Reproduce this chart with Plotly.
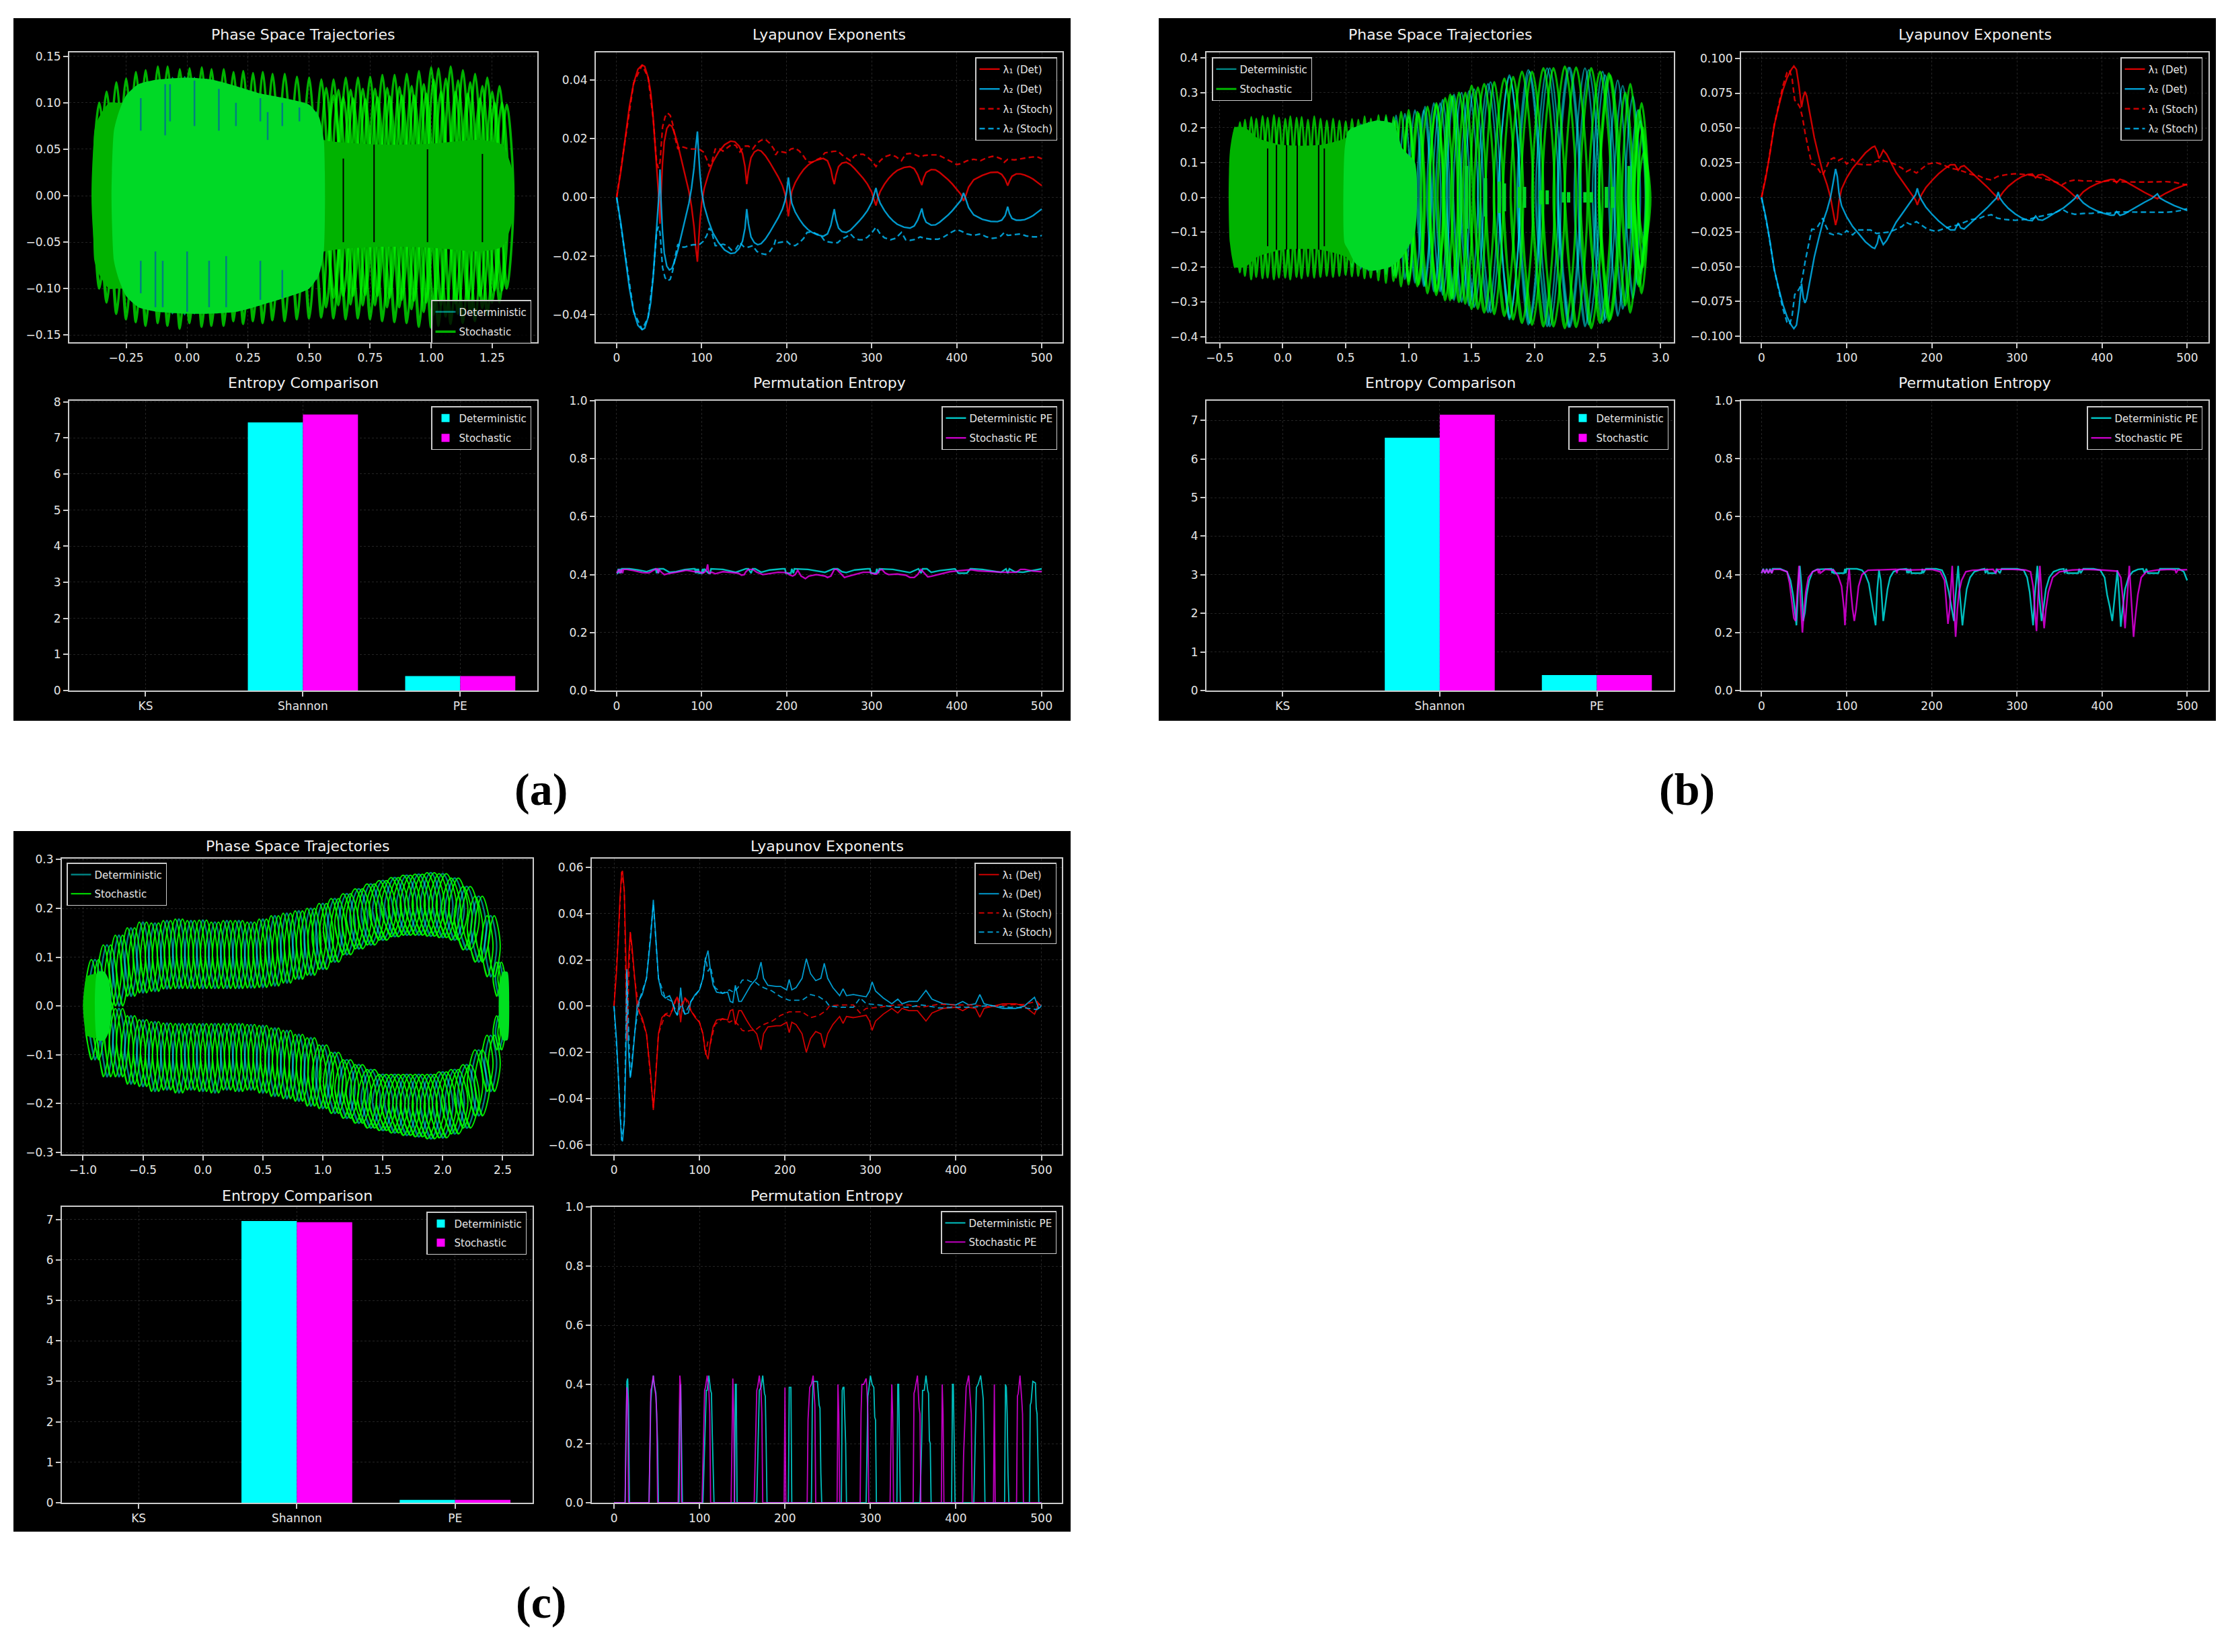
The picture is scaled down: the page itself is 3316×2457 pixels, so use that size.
import plotly.graph_objects as go

W, H = 3316, 2457
STEPS_TICK = [0, 100, 200, 300, 400, 500]

# ---------- entropy bars ----------
bar_cats = ["KS", "Shannon", "PE"]
a_bar_det = [0.0, 7.43, 0.40]
a_bar_sto = [0.0, 7.65, 0.40]
b_bar_det = [0.0, 6.55, 0.40]
b_bar_sto = [0.0, 7.15, 0.40]
c_bar_det = [0.0, 6.96, 0.07]
c_bar_sto = [0.0, 6.93, 0.07]

# ---------- Lyapunov (a) ----------
a_ld_x = [0,5,10,15,20,25,30,33,37,40,43,46,48,50,51,52,54,56,59,62,65,68,72,76,80,85,88,91,93,95,96,98,100,103,108,113,120,127,134,139,144,148,151,153,155,158,162,166,170,175,180,185,190,195,198,200,202,204,206,210,215,220,225,230,236,243,248,252,254,256,258,261,265,270,275,280,285,290,295,300,303,305,307,310,315,320,325,330,338,345,350,354,357,359,361,364,370,375,380,385,390,395,400,405,408,410,414,420,430,440,448,453,457,460,462,465,470,475,480,485,490,495,500]
a_l1d = [0,.009,.02,.031,.039,.0437,.0452,.0447,.041,.036,.027,.015,.006,-.002,-.009,0,.012,.019,.0235,.0248,.0243,.022,.018,.013,.008,.002,-.003,-.01,-.017,-.022,-.017,-.008,-.002,.003,.008,.012,.0155,.018,.0192,.019,.0175,.015,.0105,.0045,.009,.0135,.0155,.0162,.0158,.0142,.012,.0095,.007,.004,.0012,-.002,-.0065,-.002,.002,.005,.0075,.0095,.011,.012,.0128,.0133,.0125,.0095,.0065,.0045,.0075,.0105,.0117,.012,.0112,.0098,.0082,.0065,.0045,.0018,-.001,-.0028,-.0005,.002,.0045,.0065,.008,.0092,.0102,.0105,.0098,.0078,.0055,.0042,.0065,.0085,.0095,.0094,.0085,.0073,.006,.0045,.0028,.001,-.0012,0,.0035,.006,.0075,.0085,.0086,.0078,.0062,.004,.0055,.0072,.008,.008,.0076,.007,.0062,.0052,.004]
a_l2d = [0,-.009,-.02,-.031,-.039,-.0437,-.0452,-.0447,-.041,-.036,-.027,-.015,-.006,.002,.0095,0,-.012,-.019,-.0235,-.0248,-.0243,-.022,-.018,-.013,-.008,-.002,.003,.01,.017,.0225,.017,.008,.002,-.003,-.008,-.012,-.0155,-.018,-.0192,-.019,-.0175,-.015,-.0105,-.004,-.009,-.0135,-.0155,-.0162,-.0158,-.0142,-.012,-.0095,-.007,-.004,-.0012,.002,.0068,.002,-.002,-.005,-.0075,-.0095,-.011,-.012,-.0128,-.0133,-.0125,-.0095,-.0065,-.004,-.0075,-.0105,-.0117,-.012,-.0112,-.0098,-.0082,-.0065,-.0045,-.0018,.001,.0032,.0005,-.002,-.0045,-.0065,-.008,-.0092,-.0102,-.0105,-.0098,-.0078,-.0055,-.0038,-.0065,-.0085,-.0095,-.0094,-.0085,-.0073,-.006,-.0045,-.0028,-.001,.0015,0,-.0035,-.006,-.0075,-.0082,-.0083,-.0078,-.0062,-.0032,-.0055,-.0072,-.0078,-.0078,-.0076,-.007,-.0062,-.0052,-.004]
a_ls_x = [0,10,20,30,37,43,47,49,51,54,57,60,63,66,69,72,75,80,85,90,97,102,106,109,112,116,120,125,130,135,140,145,150,155,160,165,170,175,180,185,187,190,195,200,205,210,215,220,224,230,235,240,245,250,255,260,265,270,275,280,285,290,295,300,305,310,315,322,328,335,340,345,352,357,362,370,378,385,392,400,405,412,420,428,435,442,447,452,456,460,468,475,482,490,496,500]
a_l1s = [0,.02,.039,.0452,.041,.027,.012,.01,.012,.024,.0275,.0288,.028,.025,.02,.0165,.0175,.017,.0165,.0165,.0165,.0155,.013,.0105,.012,.0165,.0168,.0158,.0168,.018,.0178,.0155,.0175,.0175,.0165,.0185,.0195,.0198,.0185,.0165,.0145,.0158,.0155,.0152,.0165,.0168,.0158,.014,.0122,.012,.0128,.0135,.0152,.0155,.0157,.0158,.0145,.0135,.0125,.0142,.0147,.0147,.0138,.0125,.0105,.0125,.0138,.0145,.014,.0125,.0148,.015,.0145,.0138,.0143,.0145,.0145,.0135,.0125,.0112,.0115,.0125,.013,.0125,.0135,.014,.0138,.0132,.012,.013,.0128,.0132,.0135,.0138,.0137,.0132]
a_l2s = [0,-.02,-.039,-.0452,-.041,-.027,-.012,-.01,-.012,-.024,-.0275,-.0285,-.028,-.025,-.02,-.016,-.017,-.017,-.0165,-.0162,-.0162,-.015,-.013,-.0105,-.012,-.0165,-.0165,-.016,-.0165,-.018,-.0178,-.0155,-.017,-.017,-.0165,-.0185,-.0192,-.0195,-.0185,-.0165,-.0145,-.0155,-.0152,-.015,-.0163,-.0165,-.0155,-.014,-.012,-.0118,-.0125,-.013,-.015,-.0153,-.0155,-.0155,-.0142,-.0135,-.0125,-.014,-.0145,-.0145,-.0136,-.0122,-.0102,-.0125,-.0138,-.0145,-.014,-.012,-.0145,-.0147,-.0143,-.0135,-.014,-.0143,-.0143,-.0135,-.0122,-.011,-.0115,-.0125,-.013,-.0125,-.0135,-.014,-.0138,-.0132,-.012,-.013,-.0128,-.0125,-.0132,-.0135,-.0135,-.013]

# ---------- Lyapunov (b) ----------
b_ld_x = [0,5,10,15,20,25,30,35,38,41,44,46,47,49,51,53,57,62,67,72,77,81,84,87,89,91,94,100,107,115,122,130,133,136,138,140,143,147,152,158,165,172,178,181,183,185,188,193,200,208,215,222,227,231,234,238,243,250,257,265,272,276,278,280,284,290,298,306,313,318,322,325,330,336,345,355,363,368,371,373,378,385,393,402,410,414,417,421,426,433,441,450,458,465,468,475,485,495,500]
b_l1d = [0,.014,.032,.052,.065,.077,.086,.092,.0945,.092,.08,.068,.065,.072,.076,.073,.06,.043,.03,.018,.009,0,-.01,-.02,-.015,-.003,.006,.014,.021,.027,.032,.036,.0368,.033,.028,.03,.034,.031,.025,.018,.012,.006,.001,-.002,-.0055,-.002,.002,.007,.012,.017,.0205,.0235,.0235,.0195,.022,.0228,.02,.016,.012,.0075,.003,.0005,-.002,.0005,.004,.008,.012,.015,.0165,.0168,.014,.016,.0165,.0145,.011,.0075,.0035,.0008,-.001,.0005,.004,.007,.0095,.0115,.0128,.0128,.0105,.013,.012,.0095,.0065,.0035,.001,-.001,.0005,.003,.006,.0085,.0095]
b_l2d = [0,-.014,-.032,-.052,-.065,-.077,-.086,-.092,-.0945,-.092,-.08,-.068,-.062,-.072,-.076,-.073,-.06,-.043,-.03,-.018,-.009,0,.01,.0205,.015,.003,-.006,-.014,-.021,-.027,-.032,-.036,-.0368,-.033,-.027,-.03,-.034,-.031,-.025,-.018,-.012,-.006,-.001,.002,.0065,.002,-.002,-.007,-.012,-.017,-.0205,-.0235,-.0235,-.0185,-.022,-.0228,-.02,-.016,-.012,-.0075,-.003,-.0005,.0038,-.0005,-.004,-.008,-.012,-.015,-.0165,-.0168,-.0135,-.016,-.0165,-.0145,-.011,-.0075,-.0035,-.0008,.002,-.0005,-.004,-.007,-.0095,-.0115,-.0128,-.0128,-.0102,-.013,-.012,-.0095,-.0065,-.0035,-.001,.0025,-.0005,-.003,-.006,-.0085,-.0095]
b_ls_x = [0,8,15,20,25,30,33,36,39,42,45,48,51,55,59,62,66,70,72,75,80,85,90,95,100,107,113,120,128,135,142,150,158,165,170,175,182,188,195,205,213,222,230,238,246,255,262,270,277,287,298,308,316,325,332,340,347,353,360,368,378,388,398,408,418,428,438,450,462,475,485,492,500]
b_l1s = [0,.025,.052,.066,.08,.09,.0915,.085,.07,.068,.065,.058,.047,.035,.024,.0235,.021,.017,.016,.02,.027,.0285,.0265,.028,.024,.0275,.024,.0235,.0235,.026,.0265,.0255,.0235,.021,.0185,.02,.0175,.0205,.024,.025,.0235,.021,.02,.0185,.0165,.0155,.0135,.0125,.015,.0163,.017,.0165,.016,.0145,.0135,.012,.0108,.009,.0115,.0125,.0118,.0118,.0112,.012,.0112,.011,.011,.011,.011,.0113,.0108,.0098,.0088]
b_l2s = [0,-.025,-.052,-.066,-.08,-.09,-.0915,-.085,-.07,-.068,-.065,-.058,-.047,-.035,-.023,-.023,-.021,-.017,-.015,-.02,-.026,-.027,-.026,-.027,-.024,-.027,-.0235,-.0235,-.0235,-.026,-.0255,-.025,-.023,-.021,-.018,-.0195,-.0175,-.02,-.023,-.0245,-.023,-.021,-.02,-.018,-.016,-.0153,-.0135,-.0125,-.015,-.016,-.0165,-.016,-.0155,-.014,-.0132,-.012,-.0105,-.0085,-.011,-.0122,-.0116,-.0115,-.0108,-.0115,-.0105,-.0105,-.0105,-.0105,-.0105,-.0108,-.0103,-.0095,-.0082]

# ---------- Lyapunov (c) ----------
c_ld_x = [0,3,5,7,9,10,12,14,15,16,17,19,21,24,27,30,33,38,43,46,49,52,56,60,65,68,71,74,76,78,80,83,87,90,95,100,104,107,110,113,116,120,127,133,136,139,142,146,149,155,160,167,172,175,180,190,195,202,205,208,213,220,225,230,236,242,246,250,256,264,268,272,280,295,299,302,306,315,325,332,337,345,355,365,372,385,400,408,415,423,428,433,445,455,462,470,480,492,497,500]
c_l1d = [0,.015,.03,.047,.058,.0585,.05,.02,-.015,.01,.02,.032,.026,.012,0,-.003,-.005,-.012,-.03,-.045,-.03,-.012,-.005,-.0035,-.0045,-.002,.002,.004,0,-.007,0,.0035,.002,-.002,-.005,-.007,-.012,-.02,-.023,-.015,-.009,-.006,-.0055,-.006,-.002,-.0015,-.008,-.002,-.002,-.006,-.009,-.012,-.019,-.012,-.009,-.0085,-.0085,-.007,-.0115,-.007,-.008,-.012,-.02,-.014,-.011,-.012,-.018,-.012,-.008,-.0045,-.0075,-.0045,-.005,-.004,-.0065,-.0105,-.0065,-.0035,-.001,-.003,-.001,-.002,-.002,-.0065,-.003,-.001,-.0005,-.002,-.0005,-.001,-.0048,-.001,0,.001,.001,.001,0,-.0035,.001,0]
c_l2d = [0,-.015,-.03,-.047,-.058,-.0585,-.05,-.02,.016,-.01,-.02,-.031,-.026,-.012,0,.003,.005,.012,.03,.046,.03,.012,.005,.0035,.0045,.002,-.002,-.004,0,.008,0,-.0035,-.003,.002,.005,.007,.012,.02,.024,.015,.009,.006,.0055,.006,.002,.0015,.009,.002,.002,.006,.009,.012,.019,.012,.009,.0085,.0085,.007,.0115,.007,.008,.012,.0205,.014,.011,.012,.0185,.012,.008,.0045,.0075,.0045,.005,.004,.0065,.0105,.0065,.0035,.001,.003,.001,.002,.002,.0068,.003,.001,.0005,.002,.0005,.001,.005,.001,0,-.001,-.001,-.001,0,.0038,-.001,0]
c_ls_x = [0,5,9,12,15,19,24,30,38,46,52,60,68,74,78,83,90,100,104,107,110,113,118,127,135,140,145,150,155,160,165,170,175,185,195,205,220,230,240,248,252,265,280,288,295,310,330,345,360,380,400,420,440,460,480,495,500]
c_l1s = [0,.03,.058,.05,-.015,.032,.012,-.003,-.012,-.044,-.012,-.0035,-.002,.004,.0,.0035,-.002,-.007,-.012,-.021,-.015,-.016,-.008,-.0055,-.007,-.006,-.008,-.0105,-.011,-.0105,-.0105,-.009,-.008,-.0065,-.004,-.0025,-.0025,-.005,-.004,-.002,0,.0005,.0005,-.003,-.001,-.0005,.0005,.0005,-.0005,.0008,.0005,.0005,-.0003,.0005,.0008,.002,-.0005]
c_l2s = [0,-.03,-.058,-.05,.015,-.031,-.012,.003,.012,.044,.012,.0035,.002,-.004,0,-.0035,.002,.007,.012,.021,.015,.017,.008,.0055,.007,.006,.008,.0112,.0115,.0105,.0105,.009,.008,.0065,.004,.0025,.0025,.005,.004,.002,0,-.0005,-.0005,.0035,.001,.0005,-.0005,-.0005,.0005,-.0008,-.0005,-.0005,.0003,-.0005,-.0008,-.0015,.0005]

# ---------- Permutation entropy ----------
a_pd_x = [0,1,2,3,4,5,6,15,25,35,43,46,47,48,49,50,55,60,62,70,80,90,92,93,94,95,96,97,100,101,102,103,108,110,111,125,140,147,152,155,158,160,163,170,180,195,198,199,205,206,208,209,225,245,255,260,265,270,280,295,298,299,305,306,308,309,325,345,355,358,360,365,370,380,398,402,403,412,416,418,430,452,458,460,462,468,478,500]
a_pd_y = [.405,.405,.42,.405,.42,.405,.42,.42,.416,.41,.418,.42,.405,.42,.405,.42,.42,.41,.408,.41,.417,.42,.42,.405,.42,.405,.42,.405,.405,.42,.405,.42,.405,.405,.42,.418,.408,.415,.42,.42,.405,.42,.42,.408,.416,.42,.42,.405,.405,.42,.405,.42,.418,.408,.42,.42,.41,.407,.416,.42,.42,.405,.405,.42,.405,.42,.418,.407,.42,.405,.42,.42,.408,.414,.42,.405,.405,.405,.42,.42,.418,.408,.42,.405,.42,.41,.408,.42]
a_ps_x = [0,3,4,6,7,8,9,12,20,30,38,45,48,49,50,52,56,60,70,82,92,97,101,104,106,107,108,109,112,116,125,135,143,147,150,152,155,160,165,172,180,190,200,203,207,210,213,217,220,222,226,235,245,248,252,256,259,263,268,271,280,290,298,303,306,309,312,316,320,330,340,345,350,354,358,362,366,370,380,392,402,410,417,425,440,455,470,475,480,490,500]
a_ps_y = [.405,.418,.405,.418,.405,.418,.418,.418,.414,.407,.406,.418,.42,.405,.418,.41,.4,.403,.408,.415,.41,.41,.405,.41,.42,.435,.412,.405,.408,.403,.41,.408,.405,.398,.4,.41,.418,.418,.408,.4,.403,.408,.407,.4,.395,.4,.415,.395,.39,.386,.395,.4,.395,.39,.395,.418,.418,.405,.39,.393,.4,.408,.408,.402,.402,.415,.418,.405,.4,.402,.398,.39,.39,.4,.418,.405,.392,.394,.402,.41,.413,.415,.417,.413,.41,.408,.408,.418,.418,.412,.41]

b_pd_x = [0,2,4,6,8,10,12,13,22,30,34,37,39,41,43,45,47,49,51,53,56,60,65,78,82,83,84,85,97,98,99,100,112,118,122,126,129,131,134,136,138,140,143,145,148,151,155,162,170,171,172,173,175,176,188,189,190,193,205,212,216,220,223,226,228,231,233,236,238,241,245,250,258,262,263,265,266,275,276,280,282,290,300,308,312,315,317,319,321,324,326,329,331,334,338,343,350,355,356,358,359,372,373,375,378,390,398,403,406,409,412,415,418,420,422,424,427,431,436,442,448,450,452,454,466,468,470,490,496,500]
b_pd_y = [.405,.42,.405,.42,.405,.42,.405,.42,.42,.41,.38,.33,.28,.225,.36,.43,.36,.24,.27,.33,.38,.41,.418,.42,.42,.405,.42,.405,.405,.42,.405,.42,.42,.415,.40,.37,.32,.28,.225,.35,.415,.38,.24,.28,.35,.39,.41,.418,.42,.405,.42,.405,.42,.405,.405,.42,.405,.42,.42,.415,.39,.34,.29,.24,.33,.43,.33,.225,.28,.35,.39,.41,.418,.42,.405,.42,.405,.405,.42,.405,.42,.42,.42,.415,.39,.34,.28,.225,.33,.43,.33,.24,.28,.35,.39,.41,.418,.42,.405,.42,.405,.405,.42,.405,.42,.42,.415,.39,.33,.29,.24,.32,.415,.33,.22,.28,.35,.39,.41,.418,.42,.405,.42,.405,.405,.42,.42,.42,.41,.38]
b_ps_x = [0,2,4,6,8,10,12,14,22,30,33,36,38,40,42,44,46,48,50,52,55,60,66,67,68,69,75,85,90,94,97,98,100,103,105,107,109,111,114,118,125,150,158,159,160,162,175,200,210,215,217,219,221,224,226,228,230,232,235,240,248,260,272,275,277,295,310,316,319,321,323,325,327,329,332,334,337,342,350,365,380,400,418,422,425,427,429,432,434,437,439,442,446,452,465,480,486,487,489,500]
b_ps_y = [.405,.418,.405,.418,.405,.418,.405,.418,.418,.41,.37,.3,.25,.24,.33,.43,.3,.2,.28,.34,.39,.41,.418,.405,.418,.405,.418,.415,.395,.36,.28,.225,.33,.42,.34,.28,.24,.28,.36,.4,.415,.416,.418,.405,.418,.418,.416,.418,.41,.38,.3,.23,.28,.43,.3,.185,.28,.34,.38,.41,.415,.416,.418,.405,.418,.418,.416,.41,.36,.28,.205,.33,.43,.33,.215,.28,.34,.39,.41,.416,.418,.416,.412,.39,.3,.215,.3,.43,.33,.185,.25,.33,.39,.41,.416,.418,.416,.405,.416,.417]

c_pd_x = [0,13,14,15,16,17,18,41,43,44,46,47,49,50,51,52,53,76,77,78,79,80,104,106,108,109,111,113,114,115,116,117,141,142,143,144,167,169,170,172,174,176,177,178,179,204,205,206,207,208,231,232,233,235,238,240,241,242,243,266,267,268,269,271,272,295,297,298,300,302,304,305,306,307,331,332,333,334,335,358,360,361,363,365,367,368,369,370,371,395,396,397,398,399,421,423,424,426,429,431,432,433,434,457,458,459,460,461,462,486,487,488,490,493,494,495,496,497,500]
c_pd_y = [0,0,.2,.41,.42,.33,0,0,.34,.38,.43,.4,.37,.3,.2,0,0,0,.3,.4,.2,0,0,.2,.38,.38,.43,.38,.37,.23,.1,0,0,.4,.4,0,0,.28,.38,.39,.43,.37,.36,.2,0,0,.39,.39,.39,0,0,.33,.41,.41,.41,.33,.32,.1,0,0,.38,.39,.39,.2,0,0,.36,.38,.43,.4,.39,.29,.28,0,0,.4,.4,.2,0,0,.21,.38,.38,.43,.38,.37,.21,.2,0,0,.4,.4,.2,0,0,.29,.39,.4,.43,.38,.35,.2,0,0,.4,.39,.3,.1,0,0,.33,.34,.41,.405,.32,.3,.1,0,0]
c_ps_x = [0,13,14,15,16,17,41,42,43,44,46,47,49,50,51,75,76,77,78,79,103,104,105,106,107,109,111,112,113,137,138,139,140,141,164,165,167,168,170,172,173,174,199,200,201,226,227,229,231,233,235,236,261,262,263,264,288,289,290,292,295,296,297,298,323,324,325,326,327,350,351,352,355,357,358,359,383,384,385,386,408,409,410,412,415,417,418,419,444,445,446,471,472,473,475,477,478,479,500]
c_ps_y = [0,0,.25,.39,.35,0,0,.23,.38,.39,.43,.4,.36,.3,0,0,.25,.43,.4,0,0,.16,.25,.38,.39,.43,.38,.3,0,0,.25,.42,.3,0,0,.13,.38,.39,.43,.38,.3,0,0,.39,0,0,.28,.39,.4,.43,.33,0,0,.4,.3,0,0,.3,.4,.4,.42,.38,.3,0,0,.2,.4,.3,0,0,.37,.38,.43,.32,.3,0,0,.4,.3,0,0,.16,.25,.39,.43,.34,.3,0,0,.4,0,0,.36,.37,.43,.35,.3,0,0]

# ---------- phase space (a): one entry per loop of the orbit ----------
a_st_x = [-.36,-.33,-.29,-.25,-.21,-.17,-.12,-.08,-.03,.01,.06,.1,.15,.19,.23,.27,.31,.35,.4,.45,.5,.55,.6,.65,.7,.75,.8,.85,.9,.95,1.0,1.03,1.08,1.13,1.18,1.23,1.28,1.31,
          1.29,1.25,1.21,1.16,1.11,1.06,1.01,.97,.92,.87,.82,.77,.72,.67,.62,.57,
          .6,.64,.68,.73,.78,.83,.88,.93,.98,1.04,1.1,1.15,1.2,1.26]
a_st_top = [.1,.112,.122,.126,.133,.135,.139,.139,.136,.137,.138,.136,.136,.133,.134,.132,.133,.131,.131,.128,.127,.125,.125,.127,.127,.128,.13,.13,.131,.134,.138,.137,.139,.135,.131,.127,.118,.098,
            .1,.112,.118,.122,.124,.126,.125,.12,.118,.117,.116,.115,.115,.114,.114,.116,
            .108,.106,.105,.104,.106,.107,.108,.108,.11,.112,.112,.11,.105,.1]
a_st_bot = [-.1,-.115,-.127,-.133,-.136,-.14,-.137,-.14,-.143,-.137,-.141,-.14,-.14,-.135,-.138,-.135,-.137,-.134,-.135,-.133,-.132,-.131,-.132,-.133,-.132,-.133,-.135,-.136,-.137,-.141,-.142,-.14,-.138,-.137,-.135,-.128,-.115,-.1,
            -.102,-.115,-.121,-.125,-.127,-.13,-.128,-.125,-.122,-.12,-.12,-.118,-.118,-.117,-.118,-.12,
            -.11,-.108,-.108,-.107,-.108,-.11,-.112,-.113,-.115,-.118,-.116,-.112,-.108,-.102]
a_st_w = [.027]
a_de_x = [-.28,-.24,-.19,-.15,-.1,-.06,-.01,.03,.08,.12,.17,.21,.26,.3,.35,.39,.44,.48,.53]
a_de_top = [.085,.1,.11,.118,.124,.127,.128,.127,.125,.122,.118,.115,.112,.108,.105,.103,.1,.097,.09]
a_de_bot = [-.085,-.1,-.11,-.118,-.124,-.127,-.128,-.127,-.125,-.122,-.118,-.115,-.112,-.108,-.105,-.103,-.1,-.097,-.09]
a_de_w = [.025]
a_dark_x = [-.385,-.38,-.36,-.32,-.28,.2,.56,.8,1.0,1.2,1.29,1.33,1.335,1.33,1.29,1.2,1.0,.8,.56,.2,-.28,-.32,-.36,-.38]
a_dark_y = [0,.07,.085,.1,.1,.1,.06,.055,.056,.06,.055,.03,0,-.03,-.055,-.06,-.056,-.055,-.06,-.1,-.1,-.1,-.085,-.07]
a_lite_x = [-.31,-.3,-.28,-.25,-.2,-.12,0,.1,.2,.3,.4,.5,.54,.56,.565,.56,.54,.5,.4,.3,.2,.1,0,-.12,-.2,-.25,-.28,-.3]
a_lite_y = [0,.07,.09,.108,.12,.125,.127,.125,.118,.11,.105,.098,.085,.06,0,-.06,-.085,-.1,-.11,-.118,-.125,-.127,-.127,-.125,-.12,-.108,-.09,-.07]
a_slit_x = [.64,.766,.985,1.21]
a_slit_hi = [.04,.055,.05,.045]
a_slit_lo = [-.05,-.05,-.05,-.05]
a_teal_x = [-.19,-.09,-.07,.03,.13,.2,.3,.33,.39,.46,-.19,-.13,-.1,.0,.09,.16,.3,.39]
a_teal_hi = [.105,.12,.12,.124,.115,.1,.105,.09,.1,.095,-.07,-.06,-.07,-.06,-.07,-.065,-.07,-.08]
a_teal_lo = [.07,.065,.08,.075,.07,.075,.08,.06,.075,.08,-.105,-.12,-.12,-.125,-.12,-.12,-.112,-.11]

# ---------- phase space (b) ----------
b_st_x = [-.38,-.34,-.3,-.25,-.21,-.16,-.12,-.07,-.03,.02,.06,.11,.15,.2,.25,.3,.35,.4,.45,.5,.55,.6,.65,.7,.76,.82,.88,.94,1.0,1.07,1.15,1.22,1.29,1.35,1.4,1.5,1.6,1.76,1.9,2.07,2.24,2.45,2.59,2.76,2.85,2.86,2.84,2.72,2.6,2.52,2.33,2.15,1.98,1.83,1.68,1.55,1.45,1.33,1.22,1.08,1.0,.9,2.83,2.87]
b_st_top = [.2,.215,.222,.23,.225,.233,.228,.235,.228,.225,.232,.228,.23,.222,.232,.225,.22,.225,.22,.218,.224,.222,.232,.225,.235,.235,.23,.245,.25,.245,.26,.27,.285,.29,.3,.32,.325,.34,.36,.37,.375,.37,.355,.325,.27,.2,.21,.3,.35,.36,.372,.37,.36,.345,.33,.315,.3,.295,.265,.24,.23,.22,.25,.13]
b_st_bot = [-.2,-.215,-.225,-.235,-.228,-.232,-.23,-.235,-.23,-.23,-.235,-.228,-.232,-.226,-.23,-.228,-.225,-.228,-.225,-.222,-.226,-.225,-.232,-.23,-.238,-.245,-.24,-.255,-.25,-.255,-.275,-.28,-.295,-.29,-.3,-.32,-.33,-.34,-.36,-.37,-.375,-.375,-.355,-.33,-.275,-.2,-.21,-.31,-.35,-.36,-.372,-.37,-.365,-.35,-.335,-.32,-.305,-.295,-.27,-.25,-.24,-.23,-.255,-.14]
b_st_w = [.03]*26 + [.035,.04,.045,.05,.055,.06,.06,.065,.065,.07,.08,.085,.09,.09,.09,.09,.08,.065,.055,.04,.055,.065,.085,.09,.09,.09,.09,.08,.07,.065,.06,.06,.055,.05,.04,.035,.055,.05]
b_de_x = [.55,.62,.68,.75,.82,.9,.97,1.05,1.13,1.2,1.27,1.34,1.42,1.52,1.65,1.8,1.95,2.1,2.27,2.4,2.54,2.66,2.78,2.84,2.82,2.7,2.56,2.43,2.28,2.12,1.96,1.8,1.63,1.48,1.36,1.25,1.12,1.0,.88]
b_de_top = [.2,.21,.215,.22,.23,.235,.24,.25,.26,.27,.28,.29,.3,.31,.33,.35,.365,.37,.372,.37,.36,.335,.29,.22,.25,.32,.35,.365,.372,.37,.36,.345,.325,.305,.295,.27,.25,.235,.22]
b_de_bot = [-.2,-.205,-.21,-.215,-.22,-.225,-.235,-.245,-.255,-.27,-.28,-.29,-.3,-.315,-.33,-.35,-.365,-.37,-.372,-.37,-.36,-.34,-.29,-.22,-.25,-.32,-.35,-.365,-.372,-.37,-.36,-.345,-.33,-.31,-.295,-.27,-.255,-.24,-.225]
b_de_w = [.03,.03,.035,.035,.04,.04,.045,.05,.05,.055,.055,.06,.065,.075,.08,.085,.09,.09,.09,.085,.08,.07,.06,.05,.06,.07,.08,.085,.09,.09,.09,.085,.08,.07,.06,.06,.055,.05,.04]
b_dark_x = [-.43,-.42,-.38,-.3,-.2,0,.3,.5,.55,.55,.5,.3,0,-.2,-.3,-.38,-.42]
b_dark_y = [0,.13,.2,.2,.17,.15,.15,.17,.19,-.19,-.17,-.15,-.15,-.17,-.2,-.2,-.13]
b_lite_x = [.49,.52,.6,.75,.88,.95,1.05,1.05,.95,.85,.7,.58,.52,.49]
b_lite_y = [.13,.19,.205,.22,.21,.14,.1,-.1,-.17,-.2,-.21,-.19,-.15,-.13]
b_slit_x = [-.12,-.05,.03,.115,.285,.33]
b_slit_hi = [.14,.15,.15,.15,.15,.14]
b_slit_lo = [-.14,-.15,-.15,-.15,-.15,-.14]
b_knot_x = [1.46,1.61,1.72,1.76,1.88,1.92,2.05,2.1,2.23,2.27,2.4,2.45,2.57,2.62,2.75]
b_knot_hi = [.09,.055,.045,.04,.03,.03,.02,.02,.015,.015,.015,.015,.03,.03,.09]
b_knot_lo = [-.09,-.055,-.045,-.04,-.03,-.03,-.02,-.02,-.015,-.015,-.015,-.015,-.03,-.03,-.09]

# ---------- phase space (c): band envelopes per loop ----------
c_x1 = [-.9,-.8,-.7,-.6,-.5,-.4,-.3,-.2,-.1,0,.1,.2,.3,.4,.5,.6,.7,.8,.9,1.0,1.1,1.2,1.3,1.4,1.5,1.6,1.7,1.8,1.9,2.0,2.1,2.2,2.3,2.4,2.47]
c_x2 = [-.87,-.77,-.67,-.57,-.47,-.37,-.27,-.17,-.07,.03,.13,.23,.33,.43,.53,.63,.73,.83,.93,1.03,1.13,1.23,1.33,1.43,1.53,1.63,1.73,1.83,1.93,2.03,2.13,2.23,2.33,2.43,2.49]
c_x3 = [-.93,-.83,-.73,-.63,-.53,-.43,-.33,-.23,-.13,-.03,.07,.17,.27,.37,.47,.57,.67,.77,.87,.97,1.07,1.17,1.27,1.37,1.47,1.57,1.67,1.77,1.87,1.97,2.07,2.17,2.27,2.37,2.45]
c_up_out = [.095,.125,.145,.16,.172,.17,.175,.178,.175,.176,.172,.175,.175,.172,.178,.185,.19,.195,.2,.21,.22,.23,.24,.25,.257,.263,.268,.27,.273,.271,.262,.245,.225,.185,.09]
c_up_in = [-.03,-.01,.0,.02,.027,.03,.035,.036,.036,.036,.036,.036,.036,.037,.038,.041,.047,.055,.063,.075,.09,.105,.117,.125,.135,.142,.145,.145,.143,.14,.135,.115,.09,.06,.02]
c_lo_in = [.03,.01,-.005,-.02,-.028,-.032,-.035,-.036,-.036,-.036,-.036,-.036,-.036,-.038,-.04,-.045,-.05,-.058,-.065,-.08,-.095,-.11,-.12,-.13,-.14,-.14,-.14,-.14,-.14,-.135,-.13,-.12,-.09,-.06,-.02]
c_lo_out = [-.11,-.145,-.145,-.16,-.165,-.175,-.172,-.178,-.172,-.175,-.178,-.172,-.175,-.172,-.178,-.185,-.19,-.195,-.205,-.21,-.22,-.23,-.24,-.25,-.255,-.26,-.265,-.268,-.272,-.27,-.262,-.25,-.225,-.175,-.09]
c_st_w = [.05]*18 + [.055,.06,.065,.07,.075,.08,.085,.085,.085,.085,.085,.085,.08,.075,.065,.05,.03]
c_fill_x = [-1.0,-.97,-.92,-.87,-.87,-.92,-.97]
c_fill_y = [0,.06,.065,.065,-.065,-.065,-.06]
c_fill2_x = [-.88,-.82,-.78,-.76,-.78,-.82,-.88]
c_fill2_y = [.07,.07,.05,0,-.05,-.07,-.07]
c_edge_x = [2.47,2.5,2.54,2.555,2.54,2.5,2.47]
c_edge_y = [.03,.07,.07,0,-.07,-.07,-.03]

C_DET = "rgba(0,255,255,0.5)"
C_STO = "rgba(0,255,0,0.7)"
C_STO_C = "rgba(0,255,0,0.92)"
C_DARK = "#00b300"
C_LITE = "#00d926"
C_TEAL = "#008080"
C_RED = "rgba(255,0,0,0.8)"
C_BLU = "rgba(0,191,255,0.8)"
FONT = "DejaVu Sans"
TXT = "#e6e6e6"


def loops(cx, top, bot, w):
    xs, ys = [], []
    for i, c in enumerate(cx):
        hw = w[i] if len(w) > 1 else w[0]
        mid = (top[i] + bot[i]) / 2
        xs += [c, c - hw, c, c + hw, c, c - hw, None]
        ys += [bot[i], mid, top[i], mid, bot[i], mid, None]
    return xs, ys


def segs(xv, hi, lo):
    xs, ys = [], []
    for x, h, l in zip(xv, hi, lo):
        xs += [x, x, None]
        ys += [l, h, None]
    return xs, ys


PANELS = [
    (103, 799, 78, 509), (886, 1580, 78, 509), (103, 799, 596, 1027), (886, 1580, 596, 1027),
    (1794, 2489, 78, 509), (2589, 3284, 78, 509), (1794, 2489, 596, 1027), (2589, 3284, 596, 1027),
    (92, 792, 1277, 1717), (880, 1579, 1277, 1717), (92, 792, 1795, 2235), (880, 1579, 1795, 2235),
]
LEGENDS = [
    (790, 446, "right", 7), (1572, 85, "right", 7), (790, 604, "right", 7), (1572, 604, "right", 7),
    (1802, 85, "left", 7), (3275, 85, "right", 7), (2481, 604, "right", 7), (3275, 604, "right", 7),
    (99, 1283, "left", 6), (1571, 1283, "right", 6), (783, 1802, "right", 6), (1571, 1801, "right", 6),
]
TITLES = ["Phase Space Trajectories", "Lyapunov Exponents", "Entropy Comparison", "Permutation Entropy"] * 3
TITLE_Y = [51, 51, 569, 569, 51, 51, 569, 569, 1258, 1258, 1778, 1778]
XRANGE = [(-.483, 1.435), (-24.5, 524.5), (-.485, 2.49), (-24.5, 524.5),
          (-.606, 3.106), (-24, 525), (-.485, 2.49), (-24, 525),
          (-1.176, 2.75), (-26, 524), (-.485, 2.49), (-26, 524)]
YRANGE = [(-.1577, .1542), (-.0495, .0495), (0, 8.03), (0, 1),
          (-.415, .415), (-.1043, .1043), (0, 7.51), (0, 1),
          (-.304, .302), (-.0642, .0638), (0, 7.31), (0, 1)]
X1_TICKS = {0: [-.25, 0, .25, .5, .75, 1, 1.25], 4: [-.5, 0, .5, 1, 1.5, 2, 2.5, 3], 8: [-1, -.5, 0, .5, 1, 1.5, 2, 2.5]}
Y_TICKS = {0: [-.15, -.1, -.05, 0, .05, .1, .15], 1: [-.04, -.02, 0, .02, .04], 2: [0, 1, 2, 3, 4, 5, 6, 7, 8],
           3: [0, .2, .4, .6, .8, 1], 4: [-.4, -.3, -.2, -.1, 0, .1, .2, .3, .4],
           5: [-.1, -.075, -.05, -.025, 0, .025, .05, .075, .1], 6: [0, 1, 2, 3, 4, 5, 6, 7],
           7: [0, .2, .4, .6, .8, 1], 8: [-.3, -.2, -.1, 0, .1, .2, .3], 9: [-.06, -.04, -.02, 0, .02, .04, .06],
           10: [0, 1, 2, 3, 4, 5, 6, 7], 11: [0, .2, .4, .6, .8, 1]}
Y_FMT = {0: ".2f", 1: ".2f", 2: "d", 3: ".1f", 4: ".1f", 5: ".3f", 6: "d", 7: ".1f", 8: ".1f", 9: ".2f", 10: "d", 11: ".1f"}
X_FMT = {0: ".2f", 4: ".1f", 8: ".1f"}

fig = go.Figure()


def ax(i):
    return dict(xaxis="x" + str(i + 1), yaxis="y" + str(i + 1))


def add_line(i, x, y, name, color, width, dash="solid", shape="linear", show=True):
    fig.add_trace(go.Scatter(x=x, y=y, mode="lines", name=name, showlegend=show, hoverinfo="skip",
                             legend="legend" + (str(i + 1) if i else ""), legendgroup=name + str(i),
                             line=dict(color=color, width=width, dash=dash, shape=shape, smoothing=1.0), **ax(i)))


def add_fill(i, x, y, color):
    fig.add_trace(go.Scatter(x=x + x[:1], y=y + y[:1], mode="lines", fill="toself", fillcolor=color, showlegend=False,
                             hoverinfo="skip", line=dict(width=0, color=color, shape="spline", smoothing=0.6), **ax(i)))


def add_bars(i, det, sto):
    for name, vals, col in (("Deterministic", det, "#00ffff"), ("Stochastic", sto, "#ff00ff")):
        fig.add_trace(go.Bar(x=bar_cats, y=vals, name=name, marker=dict(color=col, line=dict(width=0)),
                             legend="legend" + (str(i + 1) if i else ""), legendgroup=name + str(i), hoverinfo="skip", **ax(i)))


def add_lyap(i, dx, l1, l2, sx, s1, s2, w):
    add_line(i, dx, l1, "λ₁ (Det)", C_RED, w)
    add_line(i, dx, l2, "λ₂ (Det)", C_BLU, w)
    add_line(i, sx, s1, "λ₁ (Stoch)", C_RED, w, dash="8px,5px")
    add_line(i, sx, s2, "λ₂ (Stoch)", C_BLU, w, dash="8px,5px")


def add_pe(i, dx, dy, sx, sy, w):
    add_line(i, dx, dy, "Deterministic PE", "rgba(0,255,255,0.75)", w)
    add_line(i, sx, sy, "Stochastic PE", "rgba(255,0,255,0.75)", w)


# (a)
x, y = loops(a_de_x, a_de_top, a_de_bot, a_de_w)
add_line(0, x, y, "Deterministic", C_DET, 2.5, shape="spline")
x, y = loops(a_st_x, a_st_top, a_st_bot, a_st_w)
add_line(0, x, y, "Stochastic", C_STO, 3.6, shape="spline")
add_fill(0, a_dark_x, a_dark_y, C_DARK)
add_fill(0, a_lite_x, a_lite_y, C_LITE)
x, y = segs(a_slit_x, a_slit_hi, a_slit_lo)
add_line(0, x, y, "slit", "#000000", 2, show=False)
x, y = segs(a_teal_x, a_teal_hi, a_teal_lo)
add_line(0, x, y, "tealslit", C_TEAL, 2.5, show=False)
add_lyap(1, a_ld_x, a_l1d, a_l2d, a_ls_x, a_l1s, a_l2s, 2.4)
add_bars(2, a_bar_det, a_bar_sto)
add_pe(3, a_pd_x, a_pd_y, a_ps_x, a_ps_y, 2.4)

# (b)
x, y = loops(b_de_x, b_de_top, b_de_bot, b_de_w)
add_line(4, x, y, "Deterministic", C_DET, 2.4, shape="spline")
x, y = loops(b_st_x, b_st_top, b_st_bot, b_st_w)
add_line(4, x, y, "Stochastic", C_STO, 3.2, shape="spline")
add_fill(4, b_dark_x, b_dark_y, C_DARK)
add_fill(4, b_lite_x, b_lite_y, C_LITE)
x, y = segs(b_slit_x, b_slit_hi, b_slit_lo)
add_line(4, x, y, "slit", "#000000", 2, show=False)
x, y = segs(b_knot_x, b_knot_hi, b_knot_lo)
add_line(4, x, y, "knot", C_LITE, 5, show=False)
add_lyap(5, b_ld_x, b_l1d, b_l2d, b_ls_x, b_l1s, b_l2s, 2.4)
add_bars(6, b_bar_det, b_bar_sto)
add_pe(7, b_pd_x, b_pd_y, b_ps_x, b_ps_y, 2.4)

# (c)
xu, yu = loops(c_x1, c_up_out, c_up_in, c_st_w)
xl, yl = loops(c_x1, c_lo_in, c_lo_out, c_st_w)
add_line(8, xu + xl, yu + yl, "Deterministic", C_DET, 2.4, shape="spline")
xu, yu = loops(c_x2, c_up_out, c_up_in, c_st_w)
xl, yl = loops(c_x2, c_lo_in, c_lo_out, c_st_w)
xu3, yu3 = loops(c_x3, c_up_out, c_up_in, c_st_w)
xl3, yl3 = loops(c_x3, c_lo_in, c_lo_out, c_st_w)
add_line(8, xu + xl + xu3 + xl3, yu + yl + yu3 + yl3, "Stochastic", C_STO_C, 2.0, shape="spline")
add_fill(8, c_fill_x, c_fill_y, "#00c400")
add_fill(8, c_fill2_x, c_fill2_y, "#00e020")
add_fill(8, c_edge_x, c_edge_y, "#00e020")
add_lyap(9, c_ld_x, c_l1d, c_l2d, c_ls_x, c_l1s, c_l2s, 1.8)
add_bars(10, c_bar_det, c_bar_sto)
add_pe(11, c_pd_x, c_pd_y, c_ps_x, c_ps_y, 1.8)

layout = dict(width=W, height=H, autosize=False, margin=dict(l=0, r=0, t=0, b=0, pad=0, autoexpand=False), paper_bgcolor="white",
              plot_bgcolor="black", barmode="group", bargap=0.3, bargroupgap=0, font=dict(family=FONT, color=TXT))

for i, (l, r, t, b) in enumerate(PANELS):
    kind = i % 4
    xa = dict(domain=[l / W, r / W], anchor="y" + str(i + 1), range=list(XRANGE[i]), showline=True, mirror=True,
              linecolor="#cccccc", linewidth=2, ticks="outside", ticklen=7, tickwidth=1.5, tickcolor="#cccccc",
              showgrid=True, gridcolor="rgba(255,255,255,0.14)", griddash="dot", gridwidth=1, zeroline=False,
              tickfont=dict(family=FONT, size=17, color=TXT))
    if kind == 2:
        xa.update(type="category", categoryorder="array", categoryarray=bar_cats)
    elif kind == 0:
        xa.update(tickvals=X1_TICKS[i], tickformat=X_FMT[i])
    else:
        xa.update(tickvals=STEPS_TICK, tickformat="d")
    ya = dict(domain=[1 - b / H, 1 - t / H], anchor="x" + str(i + 1), range=list(YRANGE[i]), showline=True, mirror=True,
              linecolor="#cccccc", linewidth=2, ticks="outside", ticklen=7, tickwidth=1.5, tickcolor="#cccccc",
              showgrid=True, gridcolor="rgba(255,255,255,0.14)", griddash="dot", gridwidth=1, zeroline=False,
              tickvals=Y_TICKS[i], tickformat=Y_FMT[i], tickfont=dict(family=FONT, size=17, color=TXT))
    layout["xaxis" + str(i + 1)] = xa
    layout["yaxis" + str(i + 1)] = ya
    lx, ly, anc, gap = LEGENDS[i]
    layout["legend" + (str(i + 1) if i else "")] = dict(
        x=lx / W, y=1 - ly / H, xanchor=anc, yanchor="top", bgcolor="rgba(0,0,0,0.8)", bordercolor="#cccccc",
        borderwidth=1.5, font=dict(family=FONT, size=15, color=TXT), tracegroupgap=gap, itemclick=False,
        itemdoubleclick=False)

annotations = []
for i, (l, r, t, b) in enumerate(PANELS):
    annotations.append(dict(text=TITLES[i], x=(l + r) / 2 / W, y=1 - TITLE_Y[i] / H, xref="paper", yref="paper",
                            showarrow=False, xanchor="center", yanchor="middle",
                            font=dict(family=FONT, size=22, color="#f0f0f0")))
for label, px, py in (("(a)", 804, 1174), ("(b)", 2508, 1174), ("(c)", 804, 2383)):
    annotations.append(dict(text="<b>" + label + "</b>", x=px / W, y=1 - py / H, xref="paper", yref="paper", showarrow=False,
                            xanchor="center", yanchor="middle", font=dict(family="Liberation Serif", size=68, color="black")))
layout["annotations"] = annotations
layout["shapes"] = [dict(type="rect", xref="paper", yref="paper", layer="below", fillcolor="black", line=dict(width=0),
                         x0=x0 / W, x1=x1 / W, y0=1 - y1 / H, y1=1 - y0 / H)
                    for x0, x1, y0, y1 in ((20, 1592, 27, 1072), (1723, 3295, 27, 1072), (20, 1592, 1236, 2278))]
fig.update_layout(**layout)
fig.write_html("out.html", config={"displayModeBar": False}, post_script="document.body.style.margin='0';")
